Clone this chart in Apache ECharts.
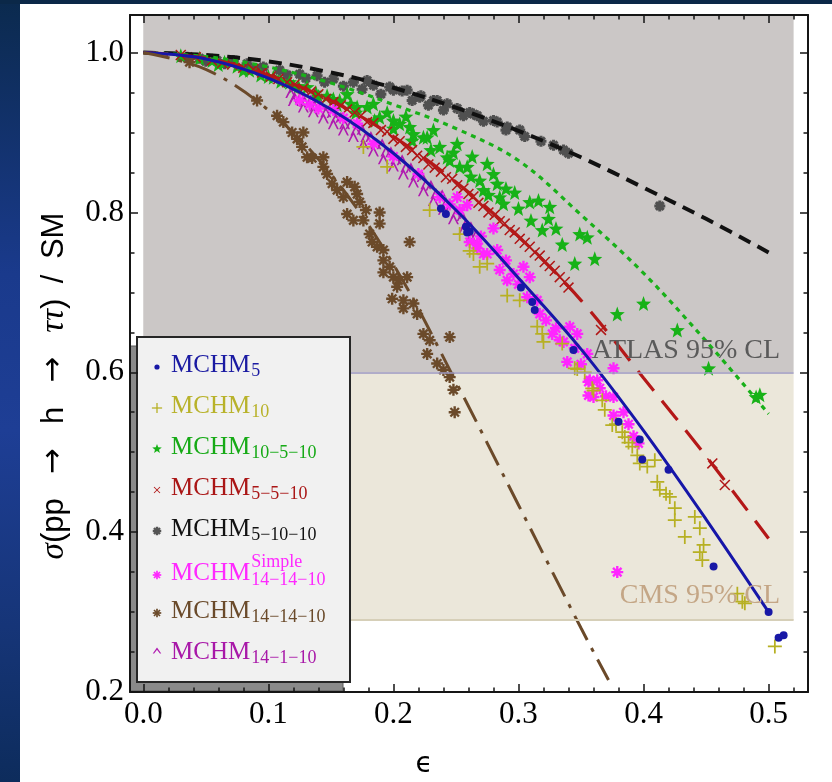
<!DOCTYPE html>
<html><head><meta charset="utf-8">
<script src="https://cdn.jsdelivr.net/npm/echarts@6/dist/echarts.min.js"></script>
<style>html,body{margin:0;padding:0;background:#fff;}#c{width:832px;height:782px;}</style>
</head><body><div id="c"></div>
<script>
// ---------------- data ----------------
const xMajorTicks = [0.0, 0.1, 0.2, 0.3, 0.4, 0.5];
const xMinorTicks = [0.02,0.04,0.06,0.08,0.12,0.14,0.16,0.18,0.22,0.24,0.26,0.28,0.32,0.34,0.36,0.38,0.42,0.44,0.46,0.48,0.52];
const yMajorTicks = [0.2, 0.4, 0.6, 0.8, 1.0];
const yMinorTicks = [0.25,0.3,0.35,0.45,0.5,0.55,0.65,0.7,0.75,0.85,0.9,0.95];

const atlasLimit = 0.6;
const cmsLimit = 0.29;
const bandEps = [0.0, 0.52];

const fitEps = [0,0.05,0.1,0.15,0.2,0.25,0.3,0.35,0.4,0.45,0.5];
const fitMCHM5       = [1.0,0.992,0.968,0.929,0.874,0.803,0.718,0.629,0.527,0.416,0.300];
const fitMCHM10_5_10 = [1.0,0.995,0.982,0.962,0.935,0.905,0.865,0.797,0.724,0.639,0.548];
const fitMCHM5_5_10  = [1.0,0.993,0.972,0.940,0.895,0.838,0.770,0.690,0.593,0.495,0.392];
const fitMCHM5_10_10 = [1.0,0.997,0.989,0.975,0.956,0.931,0.902,0.869,0.831,0.792,0.750];
const fitEpsBrown    = [0,0.05,0.1,0.15,0.2,0.25,0.3,0.35,0.372];
const fitMCHM14_14_10 = [1.0,0.979,0.928,0.848,0.735,0.588,0.434,0.280,0.215];

const ptsMCHM5 = [[0.238,0.805],[0.242,0.798],[0.258,0.782],[0.259,0.775],[0.261,0.776],[0.302,0.706],[0.311,0.688],[0.313,0.678],[0.344,0.628],[0.380,0.538],[0.397,0.516],[0.399,0.491],[0.420,0.478],[0.456,0.357],[0.500,0.300],[0.508,0.268],[0.512,0.271]];

const ptsMCHM10 = [[0.176,0.882],[0.195,0.857],[0.229,0.803],[0.253,0.773],[0.261,0.752],[0.264,0.748],[0.269,0.732],[0.275,0.736],[0.291,0.696],[0.301,0.690],[0.315,0.657],[0.319,0.648],[0.320,0.638],[0.335,0.636],[0.345,0.605],[0.347,0.604],[0.353,0.600],[0.359,0.580],[0.360,0.577],[0.367,0.565],[0.369,0.553],[0.375,0.534],[0.378,0.535],[0.383,0.525],[0.385,0.519],[0.388,0.512],[0.391,0.507],[0.395,0.496],[0.397,0.486],[0.403,0.482],[0.409,0.490],[0.411,0.463],[0.413,0.453],[0.418,0.448],[0.421,0.444],[0.425,0.430],[0.425,0.415],[0.433,0.394],[0.441,0.419],[0.445,0.405],[0.448,0.384],[0.445,0.375],[0.447,0.365],[0.475,0.323],[0.479,0.313],[0.481,0.311],[0.505,0.257]];

const ptsMCHM10_5_10 = [[0.030,0.996],[0.045,0.993],[0.055,0.990],[0.060,0.985],[0.065,0.988],[0.075,0.983],[0.080,0.978],[0.085,0.978],[0.094,0.972],[0.100,0.970],[0.104,0.969],[0.110,0.964],[0.117,0.963],[0.120,0.958],[0.124,0.958],[0.131,0.957],[0.138,0.950],[0.140,0.945],[0.147,0.946],[0.152,0.942],[0.155,0.935],[0.157,0.940],[0.163,0.948],[0.166,0.936],[0.170,0.925],[0.171,0.932],[0.179,0.932],[0.184,0.936],[0.185,0.915],[0.189,0.919],[0.195,0.925],[0.200,0.915],[0.200,0.905],[0.205,0.911],[0.210,0.920],[0.213,0.907],[0.215,0.890],[0.216,0.898],[0.224,0.894],[0.227,0.894],[0.230,0.878],[0.232,0.903],[0.237,0.882],[0.243,0.869],[0.245,0.865],[0.248,0.875],[0.251,0.886],[0.253,0.857],[0.259,0.857],[0.262,0.845],[0.263,0.870],[0.269,0.840],[0.272,0.828],[0.275,0.861],[0.276,0.822],[0.280,0.848],[0.283,0.836],[0.285,0.819],[0.288,0.811],[0.290,0.830],[0.297,0.825],[0.300,0.805],[0.309,0.813],[0.310,0.790],[0.316,0.815],[0.319,0.778],[0.324,0.792],[0.325,0.807],[0.330,0.780],[0.335,0.760],[0.345,0.736],[0.349,0.773],[0.355,0.769],[0.361,0.742],[0.379,0.673],[0.400,0.686],[0.427,0.653],[0.452,0.605],[0.490,0.569],[0.493,0.572]];

const ptsMCHM5_5_10 = [[0.030,0.997],[0.042,0.994],[0.055,0.990],[0.063,0.987],[0.071,0.985],[0.080,0.981],[0.088,0.979],[0.095,0.975],[0.102,0.970],[0.108,0.967],[0.115,0.963],[0.121,0.960],[0.128,0.955],[0.134,0.951],[0.140,0.948],[0.146,0.942],[0.152,0.938],[0.158,0.934],[0.163,0.929],[0.169,0.925],[0.174,0.921],[0.179,0.913],[0.184,0.912],[0.190,0.903],[0.195,0.901],[0.200,0.892],[0.205,0.889],[0.210,0.882],[0.215,0.878],[0.219,0.871],[0.224,0.868],[0.228,0.860],[0.233,0.856],[0.238,0.851],[0.242,0.844],[0.247,0.842],[0.251,0.834],[0.256,0.830],[0.260,0.823],[0.264,0.820],[0.268,0.812],[0.272,0.808],[0.276,0.800],[0.281,0.797],[0.285,0.789],[0.289,0.786],[0.293,0.778],[0.297,0.775],[0.301,0.767],[0.305,0.762],[0.309,0.757],[0.313,0.750],[0.317,0.746],[0.321,0.738],[0.325,0.733],[0.329,0.727],[0.333,0.719],[0.337,0.713],[0.340,0.706],[0.366,0.653],[0.455,0.486],[0.465,0.459]];

const ptsMCHM5_10_10 = [[0.035,0.994],[0.045,0.993],[0.050,0.989],[0.059,0.990],[0.065,0.986],[0.072,0.990],[0.083,0.986],[0.090,0.980],[0.096,0.982],[0.109,0.978],[0.115,0.972],[0.125,0.973],[0.130,0.968],[0.139,0.971],[0.145,0.963],[0.152,0.967],[0.160,0.958],[0.168,0.963],[0.175,0.954],[0.179,0.965],[0.184,0.959],[0.190,0.948],[0.197,0.957],[0.200,0.953],[0.207,0.952],[0.211,0.953],[0.215,0.940],[0.221,0.944],[0.222,0.946],[0.228,0.934],[0.232,0.940],[0.235,0.940],[0.240,0.928],[0.243,0.936],[0.251,0.930],[0.256,0.921],[0.261,0.925],[0.264,0.923],[0.267,0.921],[0.272,0.914],[0.280,0.915],[0.283,0.913],[0.290,0.903],[0.291,0.907],[0.301,0.903],[0.305,0.895],[0.318,0.889],[0.328,0.884],[0.336,0.878],[0.340,0.874],[0.413,0.808]];

const ptsMCHM14_14_10_simple = [[0.125,0.940],[0.133,0.935],[0.140,0.930],[0.152,0.928],[0.160,0.918],[0.171,0.911],[0.184,0.886],[0.200,0.870],[0.220,0.848],[0.237,0.819],[0.245,0.810],[0.251,0.819],[0.253,0.803],[0.259,0.809],[0.261,0.763],[0.267,0.761],[0.267,0.755],[0.270,0.770],[0.272,0.748],[0.275,0.748],[0.280,0.780],[0.283,0.753],[0.285,0.728],[0.290,0.740],[0.291,0.715],[0.296,0.723],[0.300,0.710],[0.304,0.732],[0.307,0.694],[0.309,0.719],[0.315,0.690],[0.317,0.673],[0.322,0.665],[0.327,0.648],[0.330,0.655],[0.333,0.640],[0.336,0.638],[0.339,0.613],[0.341,0.657],[0.345,0.630],[0.347,0.648],[0.350,0.610],[0.355,0.623],[0.356,0.588],[0.356,0.571],[0.357,0.590],[0.360,0.569],[0.363,0.590],[0.365,0.580],[0.370,0.570],[0.376,0.605],[0.376,0.569],[0.376,0.546],[0.384,0.550],[0.388,0.535],[0.392,0.520],[0.396,0.511],[0.379,0.350]];

const ptsMCHM14_14_10 = [[0.037,0.988],[0.091,0.940],[0.107,0.921],[0.112,0.913],[0.119,0.900],[0.123,0.892],[0.128,0.900],[0.127,0.882],[0.131,0.869],[0.135,0.868],[0.144,0.869],[0.144,0.857],[0.147,0.848],[0.151,0.836],[0.155,0.828],[0.160,0.819],[0.163,0.838],[0.169,0.832],[0.171,0.823],[0.173,0.813],[0.163,0.798],[0.168,0.790],[0.176,0.790],[0.178,0.803],[0.189,0.800],[0.189,0.786],[0.181,0.773],[0.183,0.763],[0.187,0.757],[0.192,0.753],[0.192,0.740],[0.197,0.732],[0.213,0.763],[0.192,0.725],[0.200,0.719],[0.204,0.715],[0.211,0.719],[0.203,0.707],[0.199,0.692],[0.208,0.690],[0.216,0.686],[0.208,0.680],[0.219,0.673],[0.224,0.648],[0.229,0.640],[0.245,0.644],[0.227,0.623],[0.235,0.611],[0.240,0.603],[0.245,0.594],[0.248,0.578],[0.249,0.550]];

const ptsMCHM14_1_10 = [[0.118,0.950],[0.120,0.940],[0.121,0.944],[0.126,0.946],[0.128,0.932],[0.129,0.939],[0.134,0.941],[0.136,0.926],[0.137,0.933],[0.142,0.934],[0.144,0.918],[0.146,0.926],[0.151,0.925],[0.152,0.911],[0.154,0.918],[0.158,0.919],[0.160,0.903],[0.161,0.911],[0.166,0.911],[0.168,0.895],[0.170,0.903],[0.175,0.904],[0.176,0.886],[0.178,0.895],[0.182,0.895],[0.184,0.877],[0.186,0.886],[0.191,0.886],[0.192,0.867],[0.194,0.877],[0.198,0.876],[0.200,0.858],[0.202,0.867],[0.207,0.866],[0.208,0.848],[0.210,0.857],[0.214,0.856],[0.216,0.838],[0.218,0.847],[0.223,0.845],[0.224,0.827],[0.226,0.836],[0.230,0.834],[0.232,0.815],[0.234,0.824],[0.239,0.822],[0.240,0.804],[0.242,0.812],[0.246,0.809],[0.248,0.792],[0.250,0.799],[0.255,0.796],[0.256,0.779],[0.258,0.786],[0.262,0.782],[0.262,0.770],[0.266,0.772]];

const legendSubs = ['5','10','10\u22125\u221210','5\u22125\u221210','5\u221210\u221210','14\u221214\u221210','14\u221214\u221210','14\u22121\u221210'];
const legendSupSimple = 'Simple';
const atlasText = 'ATLAS 95% CL';
const cmsText = 'CMS 95% CL';

// ---------------- styling helpers ----------------
function barsPolys(R, w, n, rot) {
  const out = [];
  for (let k = 0; k < n; k++) {
    const a = rot + k * Math.PI / n, c = Math.cos(a), s = Math.sin(a);
    const px = -s * w / 2, py = c * w / 2;
    out.push([[R*c+px, R*s+py],[R*c-px, R*s-py],[-R*c-px,-R*s-py],[-R*c+px,-R*s+py]]);
  }
  return out;
}
function starPolys(R, r, n) {
  const pts = [];
  for (let i = 0; i < 2*n; i++) {
    const a = i * Math.PI / n, rad = i % 2 ? r : R;
    pts.push([rad*Math.sin(a), -rad*Math.cos(a)]);
  }
  return [pts];
}
function toPath(polys) {
  return 'path://' + polys.map(p => 'M' + p.map(q => q[0].toFixed(2) + ',' + q[1].toFixed(2)).join('L') + 'Z').join('');
}
const G_PLUS = barsPolys(6, 1.5, 2, 0);
const G_CROSS = barsPolys(6, 1.3, 2, Math.PI/4);
const G_STAR = starPolys(10, 4.2, 5);
const G_GRAYAST = barsPolys(5, 2.8, 4, 0);
const G_AST = barsPolys(5, 2.0, 4, 0);
const G_CARET = [[[-5,3],[0,-4],[5,3],[3.4,3],[0,-1.6],[-3.4,3]]];

const C = {
  blue:'#1818a6', olive:'#b7b023', green:'#17b217', red:'#b01616', gray:'#505050',
  magenta:'#ff26ff', brown:'#6b4a2a', purple:'#b01ab0'
};

const X_MIN = -0.0106, X_MAX = 0.5315, Y_MIN = 0.2, Y_MAX = 1.047;
const serif = '"Liberation Serif", "Times New Roman", serif';
const sans = '"Liberation Sans", Arial, sans-serif';

function zip(xs, ys) { return xs.map((x, i) => [x, ys[i]]); }

function xAx(pos, ticks, len, withLabels, withLine) {
  return {
    type:'value', min:X_MIN, max:X_MAX, position:pos, z:10,
    axisLine:{show:withLine, onZero:false, lineStyle:{color:'#151515', width:2}},
    axisTick:{show:true, inside:true, length:len, customValues:ticks, lineStyle:{color:'#151515', width:1.5}},
    axisLabel: withLabels ? {show:true, customValues:ticks, margin:7, color:'#000', fontFamily:serif, fontSize:31,
      formatter: v => Number(v).toFixed(1)} : {show:false},
    splitLine:{show:false}
  };
}
function yAx(pos, ticks, len, withLabels, withLine) {
  return {
    type:'value', min:Y_MIN, max:Y_MAX, position:pos, z:10,
    axisLine:{show:withLine, onZero:false, lineStyle:{color:'#151515', width:2}},
    axisTick:{show:true, inside:true, length:len, customValues:ticks, lineStyle:{color:'#151515', width:1.5}},
    axisLabel: withLabels ? {show:true, customValues:ticks, margin:6, color:'#000', fontFamily:serif, fontSize:31,
      formatter: v => Number(v).toFixed(1)} : {show:false},
    splitLine:{show:false}
  };
}

function scat(name, data, symbol, size, color, z) {
  return {type:'scatter', name, data, symbol, symbolSize:size, itemStyle:{color, opacity:1}, z, silent:true,
    xAxisIndex:0, yAxisIndex:0};
}
function curve(name, data, color, width, dash, z) {
  return {type:'line', name, data, showSymbol:false, symbol:'none', smooth:0.35, z, silent:true,
    xAxisIndex:0, yAxisIndex:0, lineStyle:{color, width, type:dash, cap:'butt'}};
}

// ---------------- legend graphic ----------------
const meas = document.createElement('canvas').getContext('2d');
meas.font = '25px ' + serif;
const mchmW = meas.measureText('MCHM').width;

const legendMid = [365, 406, 447, 488, 529, 573, 611, 652];
const legendColors = ['#1a1aa2','#b8b22a','#16aa16','#aa1616','#111111','#ff28ff','#6a4a2a','#a818a8'];
const legendSym = [
  {t:'circle', c:C.blue},
  {g:G_PLUS, c:C.olive, k:0.85},
  {g:G_STAR, c:C.green, k:0.5},
  {g:G_CROSS, c:C.red, k:0.7},
  {g:G_GRAYAST, c:'#555', k:0.85},
  {g:G_AST, c:C.magenta, k:0.85},
  {g:G_AST, c:C.brown, k:0.85},
  {g:G_CARET, c:C.purple, k:0.85}
];
const TX = 171, SX = 157;
const legendEls = [
  {type:'rect', z:8, shape:{x:130, y:346, width:213, height:345}, style:{fill:'#8a8a8a', stroke:'#5a5a5a', lineWidth:1}},
  {type:'rect', z:8, shape:{x:137, y:337, width:213, height:345}, style:{fill:'#f1f1f1', stroke:'#262626', lineWidth:2}}
];
legendMid.forEach((m, i) => {
  const col = legendColors[i];
  const sym = legendSym[i];
  if (sym.t === 'circle') {
    legendEls.push({type:'circle', z:9, shape:{cx:SX, cy:m+2, r:2.6}, style:{fill:sym.c}});
  } else {
    const cy = i === 7 ? m - 1 : m + 2;
    sym.g.forEach(poly => {
      legendEls.push({type:'polygon', z:9, shape:{points: poly.map(q => [SX + q[0]*sym.k, cy + q[1]*sym.k])}, style:{fill:sym.c}});
    });
  }
  legendEls.push({type:'text', z:9, x:TX, y:m, style:{text:'MCHM', fill:col, font:'25px ' + serif, align:'left', verticalAlign:'middle'}});
  if (i === 5) {
    legendEls.push({type:'text', z:9, x:TX + mchmW + 1, y:m - 10.5, style:{text:legendSupSimple, fill:col, font:'18px ' + serif, align:'left', verticalAlign:'middle'}});
    legendEls.push({type:'text', z:9, x:TX + mchmW + 1, y:m + 7.5, style:{text:legendSubs[i], fill:col, font:'18px ' + serif, align:'left', verticalAlign:'middle'}});
  } else {
    legendEls.push({type:'text', z:9, x:TX + mchmW + 1, y:m + 6, style:{text:legendSubs[i], fill:col, font:'18px ' + serif, align:'left', verticalAlign:'middle'}});
  }
});

const decoEls = [
  {type:'rect', z:0, shape:{x:0, y:0, width:20, height:782}, style:{fill:{type:'linear', x:0, y:0, x2:0, y2:1, colorStops:[
    {offset:0, color:'#0b2a4e'}, {offset:0.35, color:'#1a3a8c'}, {offset:0.55, color:'#1e3e95'}, {offset:0.8, color:'#163578'}, {offset:1, color:'#0d2c5c'}]}}},
  {type:'rect', z:0, shape:{x:0, y:0, width:832, height:4}, style:{fill:'#0b2848'}},
  {type:'text', z:9, x:780, y:351, style:{text:atlasText, fill:'#5a5a5a', font:'28px ' + serif, align:'right', verticalAlign:'middle'}},
  {type:'text', z:9, x:780, y:596, style:{text:cmsText, fill:'#c4a686', font:'28px ' + serif, align:'right', verticalAlign:'middle'}},
  {type:'text', z:9, x:54, y:386, rotation:Math.PI/2, style:{text:'{i|\u03c3}(pp {a|\u2002\u2192\u2002} h {a|\u2002\u2192\u2002} {i|\u03c4\u03c4})\u2002/\u2002SM', fill:'#000', font:'31px ' + sans, align:'center', verticalAlign:'middle',
    rich:{i:{fontStyle:'italic', fontFamily:serif, fontSize:33, fill:'#000'}, a:{fontFamily:'"DejaVu Sans", sans-serif', fontSize:31, fill:'#000'}}}},
  {type:'text', z:9, x:424, y:765, style:{text:'\u03f5', fill:'#000', font:'28px "DejaVu Sans", sans-serif', align:'center', verticalAlign:'middle'}}
];

// ---------------- chart ----------------
const chart = echarts.init(document.getElementById('c'), null, {renderer:'canvas'});
chart.setOption({
  animation:false,
  backgroundColor:'#ffffff',
  grid:{left:130, top:15, width:678, height:677, show:false, containLabel:false},
  xAxis:[
    xAx('bottom', xMajorTicks, 8, true, true),
    xAx('bottom', xMinorTicks, 4.5, false, false),
    xAx('top', xMajorTicks, 8, false, true),
    xAx('top', xMinorTicks, 4.5, false, false)
  ],
  yAxis:[
    yAx('left', yMajorTicks, 8, true, true),
    yAx('left', yMinorTicks, 4.5, false, false),
    yAx('right', yMajorTicks, 8, false, true),
    yAx('right', yMinorTicks, 4.5, false, false)
  ],
  series:[
    {type:'line', data:[], z:1, silent:true, xAxisIndex:0, yAxisIndex:0,
      markArea:{silent:true, label:{show:false}, data:[
        [{coord:[bandEps[0], atlasLimit], itemStyle:{color:'#cbc7c6'}}, {coord:[bandEps[1], Y_MAX]}],
        [{coord:[bandEps[0], cmsLimit], itemStyle:{color:'#ebe7da'}}, {coord:[bandEps[1], atlasLimit]}]
      ]},
      markLine:{silent:true, symbol:'none', label:{show:false}, data:[
        [{coord:[bandEps[0], atlasLimit], lineStyle:{color:'#9c98c2', width:1.5, type:'solid'}}, {coord:[bandEps[1], atlasLimit]}],
        [{coord:[bandEps[0], cmsLimit], lineStyle:{color:'#d6cfb8', width:2, type:'solid'}}, {coord:[bandEps[1], cmsLimit]}]
      ]}},
    scat('MCHM5-10-10', ptsMCHM5_10_10, toPath(G_GRAYAST), 11, C.gray, 2),
    scat('MCHM10-5-10', ptsMCHM10_5_10, toPath(G_STAR), 15, C.green, 2),
    scat('MCHM5-5-10', ptsMCHM5_5_10, toPath(G_CROSS), 11, C.red, 2),
    scat('MCHM14-1-10', ptsMCHM14_1_10, toPath(G_CARET), 11, C.purple, 2),
    scat('MCHM14-14-10 Simple', ptsMCHM14_14_10_simple, toPath(G_AST), 12, C.magenta, 2),
    scat('MCHM10', ptsMCHM10, toPath(G_PLUS), 14, C.olive, 2),
    scat('MCHM5', ptsMCHM5, 'circle', 8, C.blue, 2),
    scat('MCHM14-14-10', ptsMCHM14_14_10, toPath(G_AST), 12, C.brown, 2),
    curve('fit 5-10-10', zip(fitEps, fitMCHM5_10_10), '#111111', 4, [13, 8], 3),
    curve('fit 10-5-10', zip(fitEps, fitMCHM10_5_10), '#19b019', 3.2, [5, 5], 3),
    curve('fit 5-5-10', zip(fitEps, fitMCHM5_5_10), '#b41818', 3.2, [25, 13], 3),
    curve('fit 5', zip(fitEps, fitMCHM5), '#1616a8', 3, 'solid', 3),
    curve('fit 14-14-10', zip(fitEpsBrown, fitMCHM14_14_10), '#6b4a2a', 3, [27, 9, 4, 9], 3)
  ],
  graphic:{elements: decoEls.concat(legendEls)}
});
</script>
</body></html>
